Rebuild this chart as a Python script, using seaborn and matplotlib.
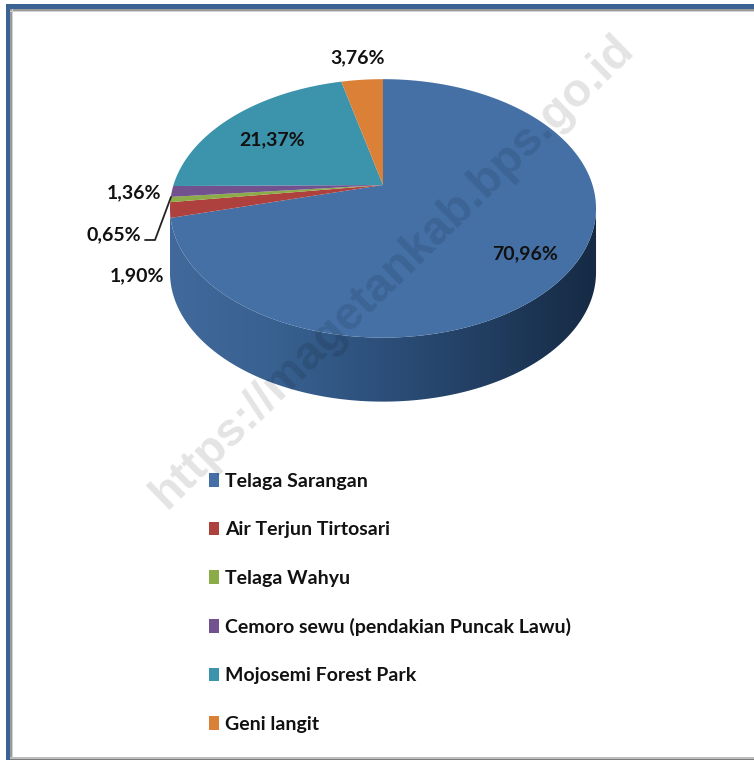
import numpy as np
import matplotlib
matplotlib.use('Agg')
import matplotlib.pyplot as plt
from matplotlib.colors import LinearSegmentedColormap
from matplotlib.patches import Polygon, Rectangle
import seaborn as sns

categories = ['Telaga Sarangan', 'Air Terjun Tirtosari', 'Telaga Wahyu',
              'Cemoro sewu (pendakian Puncak Lawu)', 'Mojosemi Forest Park', 'Geni langit']
shares = [70.96, 1.90, 0.65, 1.36, 21.37, 3.76]
share_labels = ['70,96%', '1,90%', '0,65%', '1,36%', '21,37%', '3,76%']
slice_colors = ['#4470a6', '#ae403d', '#8bac46', '#71528f', '#3b93ac', '#da8137']

sns.set_theme(style='white')
plt.rcParams['font.family'] = ['Lato', 'DejaVu Sans']

# pie geometry in pixels, apex is off the ellipse centre because of the perspective
CX, CY = 383, 185
K = 0.181
A, B = 125, 209.5
DEPTH = 64


def project(t):
    x = B * np.cos(t) / (1 + K * np.sin(t))
    y = A * np.sin(t) / (1 + K * np.sin(t))
    return CX + x, CY - y


fig = plt.figure(figsize=(7.54, 7.6), dpi=100)
ax = fig.add_axes([0, 0, 1, 1])

# frame
ax.add_patch(Rectangle((6, 4), 748, 5, color='#3a6394', lw=0))
ax.add_patch(Rectangle((6, 4), 4, 756, color='#3a6394', lw=0))
ax.add_patch(Rectangle((10, 9), 744, 1.5, color='#9a9a9a', lw=0))
ax.add_patch(Rectangle((10, 9), 1.5, 751, color='#9a9a9a', lw=0))
ax.add_patch(Rectangle((10, 10.5), 744, 1.5, color='#d2d2d2', lw=0))
ax.add_patch(Rectangle((11.5, 9), 1.5, 751, color='#d2d2d2', lw=0))
ax.add_patch(Rectangle((10, 757), 744, 1.5, color='#bdbdbd', lw=0))
ax.add_patch(Rectangle((10, 758.5), 744, 1.5, color='#7c7c7c', lw=0))

# slice angles, clockwise from the top
ends = np.pi / 2 - 2 * np.pi * np.cumsum(shares) / 100
starts = np.r_[np.pi / 2, ends[:-1]]

# side wall, only the front part shows, shaded left to right
side_cmap = LinearSegmentedColormap.from_list(
    'side', sns.blend_palette(['#41699b', '#386190', '#2c4f7a', '#213d60', '#162a44'], 64))
t = np.linspace(np.pi + np.arcsin(K), 2 * np.pi - np.arcsin(K), 300)
x, y = project(t)
wall = Polygon(np.c_[np.r_[x, x[::-1]], np.r_[y, y[::-1] + DEPTH]], closed=True,
               transform=ax.transData, lw=0)
img = ax.imshow(np.linspace(0, 1, 256)[None, :], cmap=side_cmap, aspect='auto',
                extent=(x.min(), x.max(), 410, 200), zorder=2)
img.set_clip_path(wall)

ax.set_xlim(0, 754)
ax.set_ylim(760, 0)
ax.axis('off')

# top surface
for cat, s, e, c in zip(categories, starts, ends, slice_colors):
    t = np.linspace(s, e, 200)
    x, y = project(t)
    ax.fill(np.r_[CX, x], np.r_[CY, y], color=c, lw=0, zorder=3, label=cat)

# data labels
label_xy = [(525, 254), (137, 276), (114, 235), (134, 193), (272, 140), (358, 58)]
for txt, (lx, ly) in zip(share_labels, label_xy):
    ax.text(lx, ly, txt, ha='center', va='center', fontsize=14, fontweight='bold',
            color='#111111', zorder=6)
ax.plot([145, 155, 171], [240, 240, 197], color='#222222', lw=1.3, zorder=6)

ax.text(393, 272, 'https://magetankab.bps.go.id', rotation=44.4, rotation_mode='anchor',
        ha='center', va='center', fontsize=34, fontweight='bold', family='Liberation Sans',
        color='black', alpha=0.11, zorder=7)

ax.legend(loc='upper left', bbox_to_anchor=(209 / 754, 1 - 473 / 760), frameon=False,
          handlelength=0.5, handleheight=0.7, handletextpad=0.31,
          labelspacing=1.61, borderpad=0, borderaxespad=0, labelcolor='#111111',
          prop={'weight': 'bold', 'size': 14})

fig.savefig('out.png', dpi=100)
